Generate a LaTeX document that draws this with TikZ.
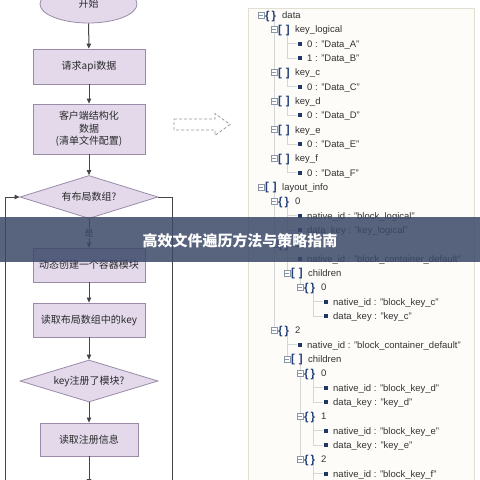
\documentclass[tikz,border=0pt]{standalone}
\usepackage{fontspec}
\setmainfont{Liberation Sans}
\newfontfamily\cjk{Noto Sans CJK SC}
\usetikzlibrary{shapes.geometric,arrows.meta}
\definecolor{boxfill}{HTML}{E3D9EB}
\definecolor{boxdraw}{HTML}{9A8CA8}
\definecolor{arrc}{HTML}{454545}
\definecolor{txt}{HTML}{2A2A2A}
\definecolor{navy}{HTML}{23407A}
\definecolor{expc}{HTML}{8A96A8}
\definecolor{guidec}{HTML}{D6D6D6}
\definecolor{panelfill}{HTML}{FDFCF9}
\definecolor{paneldraw}{HTML}{E2DED2}
\definecolor{bannerc}{HTML}{3B4868}
\definecolor{treetxt}{HTML}{333333}
\tikzset{
  proc/.style={rectangle, draw=boxdraw, fill=boxfill, line width=0.8pt, font=\cjk\fontsize{10}{12}\selectfont, text=txt, align=center, inner sep=0pt},
  decis/.style={diamond, draw=boxdraw, fill=boxfill, line width=0.8pt, font=\cjk\fontsize{10}{12}\selectfont, text=txt, align=center, inner sep=0pt, shape aspect=3.2},
  arr/.style={-{Triangle[length=5pt,width=4.5pt]}, draw=arrc, line width=1pt},
  loopline/.style={draw=arrc, line width=0.9pt},
  expbox/.style={rectangle, draw=expc, fill=white, line width=0.5pt, minimum size=6pt, inner sep=0pt},
  bracec/.style={font=\bfseries\fontsize{11.5}{12}\selectfont, text=navy, inner sep=0pt, anchor=base west},
  tlabel/.style={font=\fontsize{9.5}{11}\selectfont, text=treetxt, inner sep=0pt, anchor=base west},
  guide/.style={draw=guidec, line width=0.6pt}
}
\newcommand\tmark[3]{% level, row, mark text
  \node[expbox] (e#2) at ({261+13*#1},{15+14.33*#2}) {};
  \draw[draw=expc, line width=0.6pt] ([xshift=1.4pt]e#2.west) -- ([xshift=-1.4pt]e#2.east);
  \node[bracec] (b#2) at ({265+13*#1},{15+14.33*#2+4}) {#3};
}
\newcommand\tobj[3]{\tmark{#1}{#2}{\{\,\}}\node[tlabel] (n#2) at ({282+13*#1},{15+14.33*#2+3.5}) {#3};}
\newcommand\tarr[3]{\tmark{#1}{#2}{[\,\,]}\node[tlabel] (n#2) at ({282+13*#1},{15+14.33*#2+3.5}) {#3};}
\newcommand\tleaf[3]{% parent level, row, text
  \draw[guide] ({261+13*#1+13},{15+14.33*#2}) -- ({261+13*#1+23},{15+14.33*#2});
  \fill[navy!85!black] ({261+13*#1+24},{15+14.33*#2-2}) rectangle +(4,4);
  \node[tlabel] (n#2) at ({261+13*#1+33},{15+14.33*#2+3.5}) {#3};
}
\newcommand\tguide[3]{% parent level, parent row, last child row
  \draw[guide] ({261+13*#1+13},{15+14.33*#2+4}) -- ({261+13*#1+13},{15+14.33*#3});
}
\begin{document}
\begin{tikzpicture}[x=1pt,y=-1pt]
\useasboundingbox (0,0) rectangle (480,480);
\clip (0,0) rectangle (480,480);
\fill[white] (0,0) rectangle (480,480);
% right panel
\draw[fill=panelfill, draw=paneldraw, line width=1pt] (248,8) rectangle (474,490);
% tree guides
\tguide{0}{0}{10}
\tguide{1}{1}{3}
\tguide{1}{4}{5}
\tguide{1}{6}{7}
\tguide{1}{8}{9}
\tguide{1}{10}{11}
\tguide{0}{12}{22}
\tguide{1}{13}{15}
\tguide{1}{16}{18}
\tguide{2}{18}{19}
\tguide{3}{19}{21}
\tguide{1}{22}{24}
\tguide{2}{24}{31}
\tguide{3}{25}{27}
\tguide{3}{28}{30}
\tguide{3}{31}{34}
% tree rows
\tobj{0}{0}{data}
\tarr{1}{1}{key\_logical}
\tleaf{1}{2}{0 : "Data\_A"}
\tleaf{1}{3}{1 : "Data\_B"}
\tarr{1}{4}{key\_c}
\tleaf{1}{5}{0 : "Data\_C"}
\tarr{1}{6}{key\_d}
\tleaf{1}{7}{0 : "Data\_D"}
\tarr{1}{8}{key\_e}
\tleaf{1}{9}{0 : "Data\_E"}
\tarr{1}{10}{key\_f}
\tleaf{1}{11}{0 : "Data\_F"}
\tarr{0}{12}{layout\_info}
\tobj{1}{13}{0}
\tleaf{1}{14}{native\_id : "block\_logical"}
\tleaf{1}{15}{data\_key : "key\_logical"}
\tobj{1}{16}{1}
\tleaf{1}{17}{native\_id : "block\_container\_default"}
\tarr{2}{18}{children}
\tobj{3}{19}{0}
\tleaf{3}{20}{native\_id : "block\_key\_c"}
\tleaf{3}{21}{data\_key : "key\_c"}
\tobj{1}{22}{2}
\tleaf{1}{23}{native\_id : "block\_container\_default"}
\tarr{2}{24}{children}
\tobj{3}{25}{0}
\tleaf{3}{26}{native\_id : "block\_key\_d"}
\tleaf{3}{27}{data\_key : "key\_d"}
\tobj{3}{28}{1}
\tleaf{3}{29}{native\_id : "block\_key\_e"}
\tleaf{3}{30}{data\_key : "key\_e"}
\tobj{3}{31}{2}
\tleaf{3}{32}{native\_id : "block\_key\_f"}
% flowchart
\node[ellipse, draw=boxdraw, fill=boxfill, line width=0.8pt, minimum width=97pt, minimum height=38pt, inner sep=0pt, font=\cjk\fontsize{10}{12}\selectfont, text=txt] (start) at (88.5,4) {\raisebox{-3pt}{开始}};
\node[proc, minimum width=112pt, minimum height=35pt] (req) at (89,66.5) {请求api数据};
\node[proc, minimum width=112pt, minimum height=50pt, font=\cjk\fontsize{10}{12.3}\selectfont] (cli) at (89,129) {客户端结构化\\数据\\(清单文件配置)};
\node[decis, minimum width=138pt, minimum height=43pt] (dec1) at (89,197) {有布局数组?};
\node[proc, minimum width=112pt, minimum height=34pt] (mk) at (89,265) {动态创建一个容器模块};
\node[proc, minimum width=112pt, minimum height=34pt] (rd) at (89,320) {读取布局数组中的key};
\node[decis, minimum width=138pt, minimum height=42pt] (dec2) at (89,381) {key注册了模块?};
\node[proc, minimum width=98pt, minimum height=33pt] (info) at (89,439.5) {读取注册信息};
\coordinate (bot) at (89,484);
\coordinate (lb) at (5,484);
\coordinate (rb) at (172,484);
\draw[arr] (start) -- (req);
\draw[arr] (req) -- (cli);
\draw[arr] (cli) -- (dec1);
\draw[arr] (dec1) -- node[fill=white, inner sep=1pt, font=\cjk\fontsize{9}{10}\selectfont, text=txt, pos=0.5] (yes) {是} (mk);
\draw[arr] (mk) -- (rd);
\draw[arr] (rd) -- (dec2);
\draw[arr] (dec2) -- (info);
\draw[arr] (info) -- (bot);
\draw[loopline] (dec1.east) -| (rb);
\draw[arr] (lb) |- (dec1.west);
% dashed block arrow
\draw[draw=gray!80, dash pattern=on 3pt off 2pt, line width=0.8pt, line join=miter]
  (174,119) -- (215,119) -- (215,113.5) -- (230,124.5) -- (215,135.5) -- (215,130) -- (174,130) -- cycle;
% banner
\fill[bannerc, opacity=0.85] (0,217) rectangle (480,262);
\node[font=\cjk\bfseries\fontsize{15}{16}\selectfont, text=white, inner sep=0pt] (title) at (240,240.5) {高效文件遍历方法与策略指南};
\end{tikzpicture}
\end{document}
